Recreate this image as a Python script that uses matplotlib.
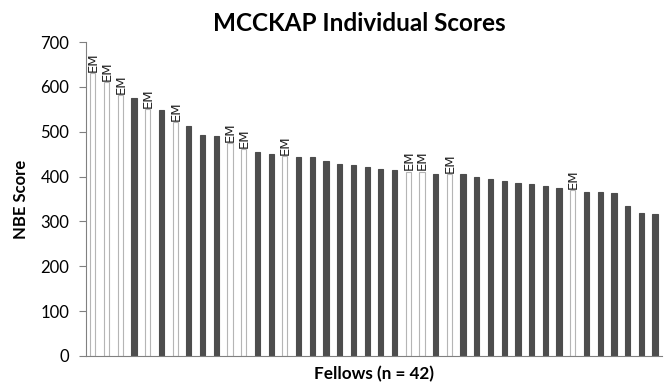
import numpy as np
import matplotlib.pyplot as plt

plt.rcParams['font.family'] = ['Lato', 'DejaVu Sans']

# NBE scores of the 42 fellows, sorted high to low
scores = [630, 610, 581, 575, 551, 549, 521, 512, 493, 490,
          475, 461, 454, 450, 445, 443, 443, 434, 429, 425,
          421, 416, 414, 411, 411, 406, 406, 405, 399, 394,
          391, 386, 384, 378, 374, 370, 365, 365, 363, 335,
          318, 317]
# True = EM fellow (white bar with label)
is_em = [True, True, True, False, True, False, True, False, False, False,
         True, True, False, False, True, False, False, False, False, False,
         False, False, False, True, True, False, True, False, False, False,
         False, False, False, False, False, True, False, False, False, False,
         False, False]
yticks = [0, 100, 200, 300, 400, 500, 600, 700]

fig = plt.figure(figsize=(6.72, 3.86), dpi=100)
ax = fig.add_axes([0.128, 0.078, 0.857, 0.813])

x = np.arange(len(scores))
face = ['white' if e else '#4d4d4d' for e in is_em]
edge = ['#b5b5b5' if e else '#4d4d4d' for e in is_em]
ax.bar(x, scores, width=0.38, color=face, edgecolor=edge, linewidth=0.8)

for xi, s, e in zip(x, scores, is_em):
    if e:
        ax.text(xi + 0.05, s + 3, 'EM', rotation=90, ha='center', va='bottom',
                fontsize=9.5, family='DejaVu Sans', color='#222222')

ax.set_xlim(-0.5, len(scores) - 0.5)
ax.set_ylim(0, 700)
ax.set_yticks(yticks)
ax.set_xticks([])
ax.tick_params(axis='y', direction='out', length=5, pad=7, labelsize=12,
               color='#808080')
for side in ['top', 'right']:
    ax.spines[side].set_visible(False)
ax.spines['left'].set_color('#808080')
ax.spines['bottom'].set_color('#808080')

ax.set_ylabel('NBE Score', fontsize=12, fontweight='bold', labelpad=8)
ax.set_xlabel('Fellows (n = 42)', fontsize=12.3, fontweight='bold', labelpad=7)
fig.text(0.535, 0.94, 'MCCKAP Individual Scores', ha='center', va='center',
         fontsize=17.5, fontweight='bold')

fig.savefig('out.png', dpi=100)
